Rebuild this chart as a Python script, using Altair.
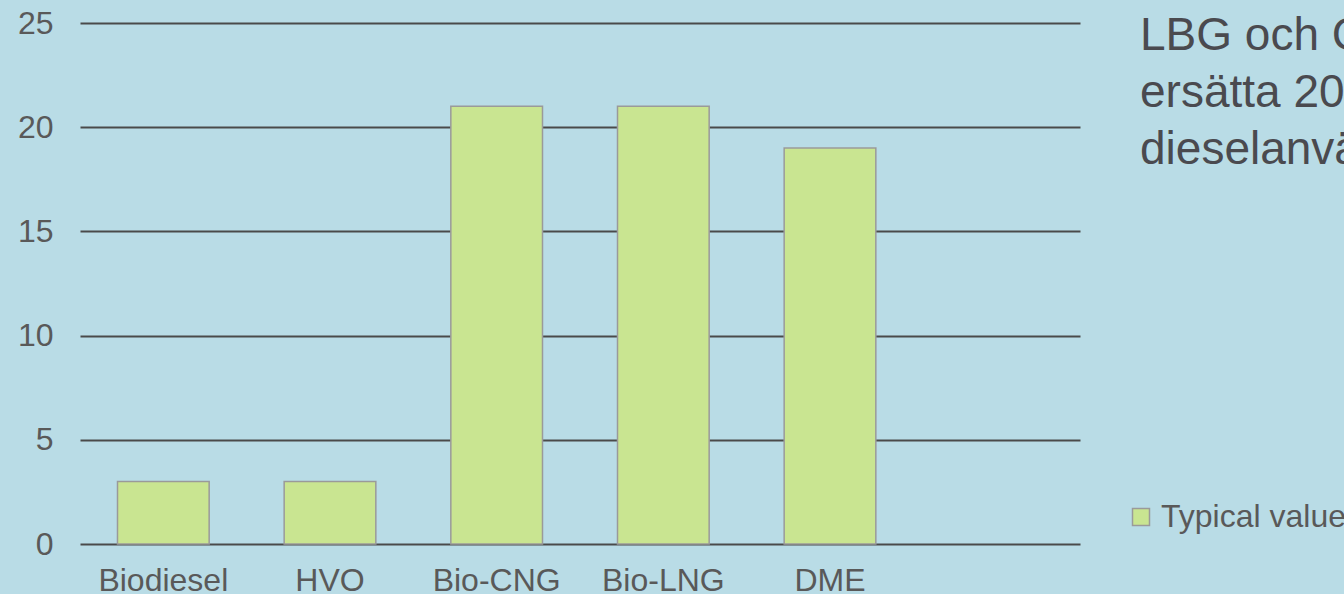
import altair as alt
import pandas as pd
import jinja2

categories = ["Biodiesel", "HVO", "Bio-CNG", "Bio-LNG", "DME"]
values = [3, 3, 21, 21, 19]
x_domain = categories + [" "]
series_name = "Typical value"
y_ticks = [0, 5, 10, 15, 20, 25]
side_text = ["LBG och CNG kan", "ersätta 20 % av", "dieselanvändningen"]

BG = "#b9dce6"
BAR = "#c9e591"
TXT = "#595959"
GRID = "#4a4a4a"
FONT = "Liberation Sans"

df = pd.DataFrame({"cat": categories, "val": values, "series": [series_name] * len(categories)})

bars = alt.Chart(df).mark_bar(stroke="#9a9a9a", strokeWidth=1.5).encode(
    x=alt.X(
        "cat:N",
        sort=x_domain,
        scale=alt.Scale(domain=x_domain, paddingInner=0.45, paddingOuter=0.225),
        axis=alt.Axis(
            title=None, labelAngle=0, labelFontSize=32, labelColor=TXT, labelFont=FONT,
            ticks=False, tickSize=0, domain=False, labelPadding=21, grid=False,
        ),
    ),
    y=alt.Y(
        "val:Q",
        scale=alt.Scale(domain=[0, 25], nice=False),
        axis=alt.Axis(
            title=None, values=y_ticks, labelFontSize=32, labelColor=TXT, labelFont=FONT,
            ticks=False, tickSize=0, domain=False, labelPadding=27,
            grid=True, gridColor=GRID, gridWidth=2, gridOpacity=1,
        ),
    ),
    color=alt.Color(
        "series:N",
        scale=alt.Scale(domain=[series_name], range=[BAR]),
        legend=alt.Legend(
            title=None, orient="none", legendX=1045, legendY=478, padding=0,
            symbolType="square", symbolSize=289, symbolStrokeColor="#9a9a9a",
            symbolStrokeWidth=1.5, labelFontSize=32, labelColor=TXT, labelFont=FONT,
            labelOffset=4, labelLimit=0,
        ),
    ),
)

text = alt.Chart(alt.Data(values=[{}])).mark_text(
    text=side_text, align="left", baseline="alphabetic", fontSize=46,
    font=FONT, color="#4a4a4f", lineHeight=57,
).encode(x=alt.value(1060), y=alt.value(27))

chart = alt.layer(bars, text).properties(
    width=1000, height=521,
    background=BG,
    padding={"left": 80, "right": 264, "top": 23, "bottom": 50},
    autosize=alt.AutoSizeParams(type="none"),
).configure_view(stroke=None, fill=BG)

PAGE = jinja2.Template("""<!DOCTYPE html>
<html>
<head>
  <meta charset="utf-8">
  <style>
    html, body { margin: 0; padding: 0; overflow: hidden; background: """ + BG + """; }
    #{{ output_div }} { line-height: 0; }
  </style>
  <script type="text/javascript" src="{{ base_url }}/vega@{{ vega_version }}"></script>
  <script type="text/javascript" src="{{ base_url }}/vega-lite@{{ vegalite_version }}"></script>
  <script type="text/javascript" src="{{ base_url }}/vega-embed@{{ vegaembed_version }}"></script>
</head>
<body>
  <div id="{{ output_div }}"></div>
  <script type="text/javascript">
    (function(vegaEmbed) {
      var spec = {{ spec }};
      var embedOpt = {{ embed_options }};
      vegaEmbed("#{{ output_div }}", spec, embedOpt).catch(function(err) {
        document.getElementById("{{ output_div }}").innerHTML = String(err);
      });
    })(vegaEmbed);
  </script>
</body>
</html>
""")

chart.save("out.html", embed_options={"renderer": "svg", "actions": False}, template=PAGE)
